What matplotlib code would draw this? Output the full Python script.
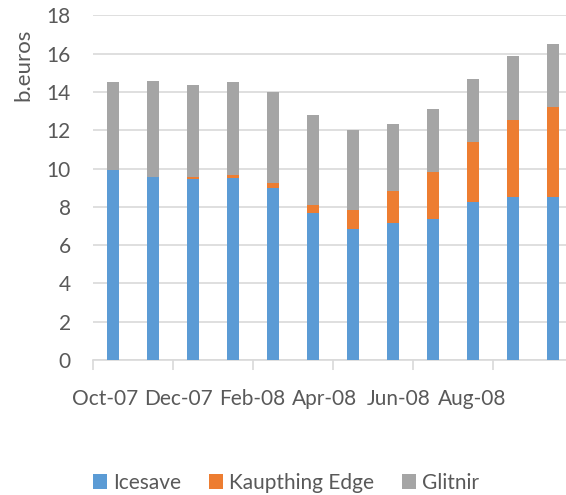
import matplotlib.pyplot as plt
import numpy as np

plt.rcParams['font.family'] = ['Lato', 'DejaVu Sans']

months = ['Oct-07', 'Nov-07', 'Dec-07', 'Jan-08', 'Feb-08', 'Mar-08',
          'Apr-08', 'May-08', 'Jun-08', 'Jul-08', 'Aug-08', 'Sep-08']
icesave = [9.90, 9.56, 9.44, 9.52, 9.00, 7.66, 6.86, 7.14, 7.36, 8.23, 8.53, 8.53]
kaupthing = [0.00, 0.00, 0.10, 0.12, 0.23, 0.44, 0.96, 1.69, 2.44, 3.14, 4.02, 4.70]
glitnir = [4.62, 4.99, 4.82, 4.88, 4.78, 4.70, 4.19, 3.48, 3.31, 3.31, 3.33, 3.29]
tick_labels = ['Oct-07', 'Dec-07', 'Feb-08', 'Apr-08', 'Jun-08', 'Aug-08']

txt = '#595959'
fig = plt.figure(figsize=(5.66, 4.95), dpi=100)
ax = fig.add_axes([93 / 566, 135 / 495, 480 / 566, 344.7 / 495])

x = np.arange(len(months))
w = 0.32
ax.bar(x, icesave, w, color='#5B9BD5', label='Icesave', zorder=3)
ax.bar(x, kaupthing, w, bottom=icesave, color='#ED7D31', label='Kaupthing Edge', zorder=3)
base = np.array(icesave) + np.array(kaupthing)
ax.bar(x, glitnir, w, bottom=base, color='#A5A5A5', label='Glitnir', zorder=3)

ax.set_xlim(-0.5, 11.5)
ax.set_ylim(0, 18)
ax.set_yticks(range(0, 19, 2))
ax.grid(axis='y', color='#D9D9D9', lw=1.2, zorder=0)
for s in ['top', 'right', 'left']:
    ax.spines[s].set_visible(False)
ax.spines['bottom'].set_color('#D9D9D9')
ax.spines['bottom'].set_linewidth(1.2)

# labels sit where the source chart put them, not centred on bars
ax.set_xticks([-0.2, 1.63, 3.47, 5.28, 7.13, 8.97])
ax.set_xticklabels(tick_labels)
ax.set_xticks(np.arange(-0.5, 11, 2), minor=True)
ax.tick_params(axis='x', which='major', length=0, pad=21, labelsize=15, labelcolor=txt)
ax.tick_params(axis='x', which='minor', length=7, color='#D9D9D9', width=1.2)
ax.tick_params(axis='y', length=0, pad=16, labelsize=15, labelcolor=txt)

ax.set_ylabel('b.euros', fontsize=16, color=txt)
ax.yaxis.set_label_coords((33 - 93) / 480, 0.856)

fig.legend(loc='center', bbox_to_anchor=(286 / 566, 1 - 483 / 495), ncol=3, frameon=False,
           fontsize=15, labelcolor=txt, handlelength=0.7, handleheight=0.7,
           handletextpad=0.3, columnspacing=1.3)

fig.savefig('out.png', dpi=100)
